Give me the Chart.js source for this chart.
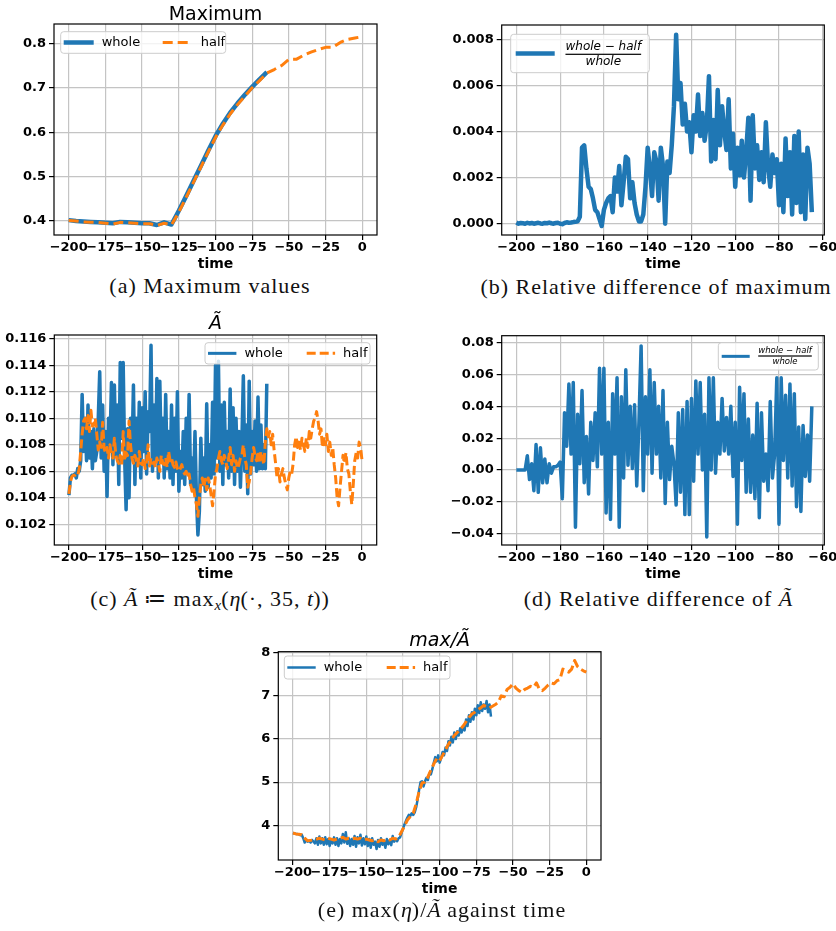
<!DOCTYPE html>
<html>
<head>
<meta charset="utf-8">
<script src="https://cdn.jsdelivr.net/npm/chart.js@4.4.1/dist/chart.umd.min.js"></script>
<style>
body{margin:0;background:#fff;width:836px;height:931px;position:relative;overflow:hidden}
canvas{position:absolute}
.cap{position:absolute;font-family:"Liberation Serif",serif;font-size:22px;line-height:22px;letter-spacing:1px;white-space:nowrap;transform:translateX(-50%);color:#111}
.cap i{letter-spacing:0}
.sub{font-style:italic;font-size:15px;position:relative;top:4px;letter-spacing:0}
</style>
</head>
<body>
<canvas id="ca" width="420" height="273" style="left:0;top:0"></canvas>
<canvas id="cb" width="416" height="273" style="left:420px;top:0"></canvas>
<canvas id="cc" width="420" height="283" style="left:0;top:300px"></canvas>
<canvas id="cd" width="416" height="283" style="left:420px;top:300px"></canvas>
<canvas id="ce" width="400" height="278" style="left:220px;top:620px"></canvas>

<div class="cap" style="left:210px;top:275px">(a) Maximum values</div>
<div class="cap" style="left:656px;top:276px">(b) Relative difference of maximum</div>
<div class="cap" style="left:210px;top:588px">(c) <i>Ã</i> ≔ max<span class="sub">x</span>(<i>η</i>(·, 35, <i>t</i>))</div>
<div class="cap" style="left:658px;top:588px">(d) Relative difference of <i>Ã</i></div>
<div class="cap" style="left:442px;top:899px">(e) max(<i>η</i>)/<i>Ã</i> against time</div>

<script>
// every series starts at t = -200
var T0 = -200

// (a) maximum of eta, one value every 5 time units
var maxStep = 5
var maxWhole = [0.402,0.400,0.399,0.398,0.397,0.396,0.395,0.398,0.397,0.396,
  0.395,0.395,0.391,0.397,0.392,0.423,0.456,0.490,0.524,0.558,
  0.591,0.619,0.644,0.665,0.684,0.702,0.719,0.735]
var maxHalf = [0.401,0.400,0.398,0.397,0.397,0.395,0.393,0.397,0.396,0.395,
  0.394,0.394,0.390,0.395,0.391,0.420,0.453,0.487,0.521,0.555,
  0.588,0.616,0.641,0.662,0.681,0.700,0.716,0.733,0.741,0.750,
  0.764,0.764,0.773,0.780,0.786,0.791,0.791,0.802,0.809,0.812,
  0.815]

// (b) (whole - half) / whole of the maximum, every time unit
var relStep = 1
var relMax = [0.00005,0.00000,0.00003,0.00002,0.00000,0.00004,0.00001,0.00003,0.00000,0.00002,
  0.00004,0.00001,0.00000,0.00003,0.00002,0.00005,0.00002,0.00000,0.00003,0.00004,
  0.00000,-0.00002,0.00003,0.00006,0.00004,0.00005,0.00007,0.00008,0.00010,0.00030,
  0.0033,0.0034,0.0024,0.0016,0.0015,0.0011,0.0006,0.0005,0.0002,-0.0001,
  0.0006,0.0009,0.0011,0.0012,0.0005,0.0020,0.0014,0.0025,0.0008,0.0018,
  0.0029,0.0028,0.0011,0.0018,0.0009,0.0004,0.0001,0.0001,0.0004,0.0016,
  0.0033,0.0024,0.0012,0.0031,0.0027,0.0010,0.0033,0.0025,0.0000,0.0027,
  0.0022,0.0034,0.0051,0.0082,0.0054,0.0061,0.0043,0.0052,0.0040,0.0044,
  0.0031,0.0047,0.0040,0.0056,0.0038,0.0048,0.0036,0.0043,0.0064,0.0027,
  0.0045,0.0028,0.0058,0.0034,0.0051,0.0040,0.0032,0.0054,0.0024,0.0039,
  0.0016,0.0033,0.0021,0.0036,0.0020,0.0031,0.0046,0.0010,0.0047,0.0024,
  0.0034,0.0019,0.0031,0.0018,0.0044,0.0025,0.0016,0.0030,0.0022,0.0028,
  0.0008,0.0026,0.0005,0.0037,0.0012,0.0031,0.0004,0.0038,0.0009,0.0040,
  0.0005,0.0030,0.0002,0.0033,0.0026,0.0005]

// (c) A tilde = max_x eta(., 35, t), every time unit
var aStep = 1
var aWhole = [0.1042,0.1055,0.1057,0.1057,0.1058,0.1055,0.1062,0.1060,0.1068,0.1118,
  0.1075,0.1100,0.1068,0.1110,0.1070,0.1090,0.1062,0.1092,0.1068,0.1075,
  0.1100,0.1135,0.1070,0.1110,0.1060,0.1090,0.1041,0.1100,0.1080,0.1127,
  0.1065,0.1125,0.1072,0.1110,0.1050,0.1142,0.1085,0.1142,0.1070,0.1031,
  0.1092,0.1040,0.1100,0.1070,0.1125,0.1050,0.1100,0.1065,0.1112,0.1055,
  0.1108,0.1075,0.1120,0.1058,0.1105,0.1090,0.1155,0.1060,0.1110,0.1068,
  0.1130,0.1055,0.1128,0.1070,0.1100,0.1055,0.1118,0.1062,0.1090,0.1055,
  0.1110,0.1050,0.1100,0.1060,0.1120,0.1045,0.1075,0.1055,0.1090,0.1050,
  0.1100,0.1060,0.1118,0.1050,0.1070,0.1048,0.1090,0.1040,0.1012,0.1030,
  0.1085,0.1050,0.1070,0.1045,0.1111,0.1048,0.1080,0.1055,0.1112,0.1058,
  0.1140,0.1070,0.1143,0.1060,0.1110,0.1050,0.1112,0.1065,0.1090,0.1055,
  0.1122,0.1060,0.1108,0.1050,0.1100,0.1060,0.1090,0.1048,0.1082,0.1132,
  0.1060,0.1095,0.1043,0.1128,0.1058,0.1090,0.1065,0.1098,0.1060,0.1116,
  0.1062,0.1095,0.1062,0.1080,0.1062,0.1126]
var aHalf = [0.1043,0.1052,0.1056,0.1057,0.1057,0.1058,0.1057,0.1062,0.1075,0.1088,
  0.1098,0.1100,0.1092,0.1102,0.1090,0.1106,0.1094,0.1095,0.1100,0.1088,
  0.1076,0.1082,0.1078,0.1097,0.1077,0.1074,0.1078,0.1070,0.1080,0.1072,
  0.1070,0.1085,0.1072,0.1068,0.1066,0.1072,0.1065,0.1090,0.1068,0.1074,
  0.1072,0.1098,0.1080,0.1070,0.1066,0.1072,0.1068,0.1064,0.1075,0.1066,
  0.1065,0.1070,0.1062,0.1068,0.1080,0.1064,0.1070,0.1066,0.1067,0.1063,
  0.1070,0.1066,0.1060,0.1072,0.1066,0.1065,0.1070,0.1063,0.1075,0.1068,
  0.1070,0.1065,0.1063,0.1067,0.1062,0.1060,0.1062,0.1065,0.1060,0.1058,
  0.1060,0.1055,0.1058,0.1050,0.1045,0.1048,0.1040,0.1035,0.1026,0.1040,
  0.1050,0.1055,0.1048,0.1054,0.1046,0.1055,0.1050,0.1042,0.1034,0.1045,
  0.1058,0.1062,0.1070,0.1075,0.1068,0.1065,0.1072,0.1068,0.1062,0.1070,
  0.1078,0.1065,0.1072,0.1060,0.1068,0.1062,0.1065,0.1070,0.1072,0.1080,
  0.1070,0.1065,0.1048,0.1052,0.1060,0.1070,0.1078,0.1072,0.1068,0.1075,
  0.1066,0.1075,0.1070,0.1065,0.1082,0.1092,0.1086,0.1090,0.1080,0.1088,
  0.1076,0.1066,0.1055,0.1062,0.1052,0.1058,0.1062,0.1055,0.1050,0.1046,
  0.1055,0.1060,0.1058,0.1066,0.1080,0.1086,0.1078,0.1082,0.1076,0.1085,
  0.1080,0.1075,0.1085,0.1078,0.1090,0.1085,0.1092,0.1098,0.1100,0.1105,
  0.1098,0.1088,0.1092,0.1078,0.1086,0.1080,0.1088,0.1075,0.1082,0.1072,
  0.1078,0.1065,0.1055,0.1040,0.1034,0.1048,0.1060,0.1072,0.1066,0.1074,
  0.1062,0.1058,0.1045,0.1035,0.1050,0.1068,0.1074,0.1070,0.1082,0.1078,
  0.1068]

// (d) relative difference of A tilde, every time unit
var relA = [0.000,0.000,0.000,0.000,0.000,0.009,-0.006,0.004,-0.013,0.016,
  -0.014,0.014,-0.008,0.007,-0.008,0.004,-0.002,0.002,0.002,0.003,
  0.005,-0.018,0.036,0.015,0.054,0.010,0.055,-0.036,0.035,0.004,
  0.050,-0.008,0.021,-0.015,0.030,0.006,0.036,0.002,0.064,0.010,
  0.064,-0.027,0.030,-0.031,0.048,0.010,0.058,-0.036,0.046,-0.005,
  0.063,0.003,0.040,0.001,0.041,-0.010,0.030,0.078,-0.013,0.046,
  0.010,0.063,-0.002,0.055,0.010,0.040,-0.005,0.050,-0.021,0.030,
  -0.006,0.015,0.004,-0.022,0.036,-0.014,0.038,-0.028,0.043,-0.028,
  0.045,-0.007,0.056,0.010,0.055,0.000,0.035,-0.042,0.058,0.000,
  0.058,-0.002,0.030,0.010,0.045,0.012,0.033,0.010,0.040,-0.004,
  0.030,-0.034,0.052,0.006,0.048,-0.014,0.032,-0.014,0.022,-0.018,
  0.042,-0.030,0.036,-0.007,0.010,-0.013,0.043,-0.005,0.010,0.058,
  -0.034,0.058,0.006,0.047,-0.005,0.054,-0.010,0.048,-0.023,0.027,
  -0.026,0.028,-0.004,0.022,-0.007,0.040]

// (e) max / A tilde; whole every time unit, half every 2
var ratioWholeStep = 1
var ratioHalfStep = 2
var ratioWhole = [3.82,3.81,3.80,3.80,3.79,3.77,3.78,3.70,3.60,3.66,
  3.62,3.64,3.60,3.66,3.62,3.58,3.70,3.55,3.74,3.58,
  3.70,3.55,3.72,3.56,3.68,3.52,3.66,3.58,3.72,3.55,
  3.70,3.52,3.68,3.58,3.80,3.60,3.84,3.57,3.70,3.52,
  3.68,3.55,3.75,3.50,3.72,3.58,3.78,3.53,3.70,3.56,
  3.74,3.52,3.68,3.48,3.70,3.55,3.62,3.45,3.66,3.50,
  3.70,3.55,3.64,3.48,3.68,3.56,3.66,3.54,3.75,3.62,
  3.68,3.63,3.70,3.72,3.82,3.92,4.02,4.10,4.18,4.24,
  4.22,4.28,4.24,4.30,4.42,4.60,4.82,5.00,5.02,4.90,
  5.02,5.10,5.05,5.20,5.18,5.30,5.45,5.58,5.48,5.62,
  5.45,5.55,5.70,5.62,5.80,5.72,5.95,5.85,6.05,5.92,
  6.15,6.00,6.18,6.08,6.25,6.15,6.30,6.20,6.45,6.30,
  6.55,6.40,6.62,6.45,6.70,6.55,6.78,6.60,6.85,6.65,
  6.80,6.70,6.88,6.62,6.80,6.52]
var ratioHalf = [3.82,3.80,3.79,3.78,3.70,3.64,3.65,3.66,3.68,3.70,
  3.68,3.66,3.70,3.68,3.66,3.68,3.70,3.72,3.68,3.70,
  3.68,3.70,3.68,3.70,3.66,3.68,3.66,3.64,3.66,3.62,
  3.66,3.64,3.68,3.66,3.70,3.68,3.72,3.85,3.98,4.12,
  4.20,4.28,4.50,4.78,4.98,5.00,5.12,5.28,5.42,5.55,
  5.50,5.62,5.75,5.88,5.98,6.08,6.15,6.22,6.30,6.40,
  6.50,6.58,6.62,6.68,6.72,6.78,6.75,6.72,6.76,6.80,
  6.85,7.00,6.98,7.15,7.20,7.28,7.18,7.12,7.08,7.15,
  7.18,7.22,7.20,7.30,7.15,7.12,7.18,7.25,7.30,7.28,
  7.35,7.38,7.62,7.58,7.55,7.62,7.82,7.68,7.62,7.58,
  7.55]

// tick values
var timeTicksLong = [-200,-175,-150,-125,-100,-75,-50,-25,0]
var timeTicksShort = [-200,-180,-160,-140,-120,-100,-80,-60]
var maxTicks = [0.4,0.5,0.6,0.7,0.8]
var relMaxTicks = [0,0.002,0.004,0.006,0.008]
var aTicks = [0.102,0.104,0.106,0.108,0.110,0.112,0.114,0.116]
var relATicks = [-0.04,-0.02,0,0.02,0.04,0.06,0.08]
var ratioTicks = [4,5,6,7,8]


var blue = '#1f77b4'
var orange = '#ff7f0e'
var gridColor = '#c4c4c4'
var sans = '"DejaVu Sans"'

function pts(step, ys){
  return ys.map(function(y,i){ return {x: T0 + i*step, y: y} })
}

function line(step, ys, color, width, dash, order){
  return {data: pts(step, ys), borderColor: color, borderWidth: width, borderDash: dash || [],
    order: order, fill: false, pointRadius: 0, tension: 0, borderJoinStyle: 'round', parsing: false}
}

function axis(min, max, ticks, digits, size, title){
  return {
    type: 'linear', min: min, max: max,
    afterBuildTicks: function(s){ s.ticks = ticks.map(function(v){ return {value: v} }) },
    afterFit: function(s){
      if (s.isHorizontal()) { s.height = size; s.paddingLeft = 0; s.paddingRight = 0 }
      else s.width = size
    },
    grid: {color: gridColor, lineWidth: 1.2, tickColor: '#000', tickWidth: 1.2, tickLength: 5},
    border: {display: false},
    ticks: {color: '#000', padding: title ? 0 : 3, autoSkip: false, maxRotation: 0,
      font: {family: sans, weight: 'bold', size: 13},
      callback: function(v){ return v.toFixed(digits).replace('-', '\u2212') }},
    title: {display: !!title, text: title, color: '#000', padding: 0,
      font: {family: sans, weight: 'bold', size: 14}}
  }
}

function drawLegend(ctx, area, lg){
  var x = lg.right ? area.right - lg.dx - lg.w : area.left + lg.dx
  var y = area.top + lg.dy
  var mid = y + lg.h/2
  ctx.beginPath()
  ctx.roundRect(x, y, lg.w, lg.h, 3)
  ctx.fillStyle = 'rgba(255,255,255,0.8)'
  ctx.fill()
  ctx.strokeStyle = '#cccccc'
  ctx.lineWidth = 1
  ctx.stroke()
  lg.items.forEach(function(it){
    ctx.beginPath()
    ctx.strokeStyle = it.color
    ctx.lineWidth = it.lw
    ctx.setLineDash(it.dash || [])
    ctx.moveTo(x + it.sx, mid)
    ctx.lineTo(x + it.sx + lg.len, mid)
    ctx.stroke()
    ctx.setLineDash([])
    ctx.fillStyle = '#000'
    if (it.frac) {
      var f = it.frac
      ctx.font = 'italic ' + f.size + 'px ' + sans
      ctx.textAlign = 'center'
      ctx.textBaseline = 'middle'
      ctx.fillText('whole \u2212 half', x + f.cx, y + f.ny)
      var w = ctx.measureText('whole \u2212 half').width
      ctx.fillRect(x + f.cx - w/2, y + f.by - 0.6, w, 1.2)
      ctx.fillText('whole', x + f.cx, y + f.dy)
    } else {
      ctx.font = '13px ' + sans
      ctx.textAlign = 'left'
      ctx.textBaseline = 'middle'
      ctx.fillText(it.text, x + it.sx + lg.len + lg.gap, mid)
    }
  })
}

function panel(id, p){
  var decor = {
    id: 'decor',
    afterDraw: function(chart){
      var ctx = chart.ctx, a = chart.chartArea
      ctx.save()
      ctx.strokeStyle = '#000'
      ctx.lineWidth = 1.2
      ctx.strokeRect(a.left, a.top, a.right - a.left, a.bottom - a.top)
      if (p.title) {
        ctx.fillStyle = '#000'
        ctx.font = p.title.font
        ctx.textAlign = 'center'
        ctx.textBaseline = 'alphabetic'
        ctx.fillText(p.title.text, (a.left + a.right)/2, a.top - p.title.lift)
      }
      drawLegend(ctx, a, p.legend)
      ctx.restore()
    }
  }
  return new Chart(document.getElementById(id), {
    type: 'line',
    data: {datasets: p.datasets},
    options: {
      responsive: false, animation: false, events: [],
      layout: {padding: {left: 0, top: p.top, right: p.right, bottom: 0}},
      plugins: {legend: {display: false}, tooltip: {enabled: false}, title: {display: false}},
      scales: {x: p.x, y: p.y}
    },
    plugins: [decor]
  })
}

var wholeHalfItems = function(wlw, hlw, dash, s2){
  return [{sx: 3, color: blue, lw: wlw, text: 'whole'},
          {sx: s2, color: orange, lw: hlw, dash: dash, text: 'half'}]
}

// (a)
panel('ca', {
  top: 24, right: 43,
  x: axis(-210, 10, timeTicksLong, 0, 38, 'time'),
  y: axis(0.3685, 0.8435, maxTicks, 1, 54),
  datasets: [line(maxStep, maxHalf, orange, 3, [10,5], 0), line(maxStep, maxWhole, blue, 4.5, null, 1)],
  title: {text: 'Maximum', font: '19px ' + sans, lift: 4},
  legend: {dx: 6.7, dy: 7.7, w: 165, h: 21.6, len: 30, gap: 8, items: wholeHalfItems(4.5, 3, [10,5], 102)}
})

// (b)
panel('cb', {
  top: 25, right: 11.7,
  x: axis(-206.7, -59.3, timeTicksShort, 0, 38, 'time'),
  y: axis(-0.00049, 0.00862, relMaxTicks, 3, 81.7),
  datasets: [line(relStep, relMax, blue, 4.5, null, 0)],
  legend: {dx: 9, dy: 9.3, w: 138.6, h: 38.4, len: 39, gap: 0,
    items: [{sx: 5, color: blue, lw: 4.5, frac: {cx: 92.6, ny: 12.4, by: 20, dy: 27.4, size: 12}}]}
})

// (c)
panel('cc', {
  top: 35, right: 43.3,
  x: axis(-210, 10, timeTicksLong, 0, 38, 'time'),
  y: axis(0.10044, 0.11628, aTicks, 3, 54.3),
  datasets: [line(aStep, aHalf, orange, 3, [9,4], 0), line(aStep, aWhole, blue, 3.5, null, 1)],
  title: {text: 'Ã', font: 'italic 19px ' + sans, lift: 6},
  legend: {right: true, dx: 6.7, dy: 7.7, w: 165, h: 21.3, len: 28.4, gap: 8, items: wholeHalfItems(3, 3, [9,4], 101.7)}
})

// (d)
panel('cd', {
  top: 35.7, right: 11.7,
  x: axis(-206.7, -59.3, timeTicksShort, 0, 38, 'time'),
  y: axis(-0.0471, 0.0844, relATicks, 2, 81.7),
  datasets: [line(relStep, relA, blue, 3.5, null, 0)],
  legend: {right: true, dx: 6, dy: 7, w: 100, h: 27.3, len: 28, gap: 0,
    items: [{sx: 3.4, color: blue, lw: 3, frac: {cx: 66.7, ny: 8, by: 13.3, dy: 19, size: 8.5}}]}
})

// (e)
panel('ce', {
  top: 31.7, right: 19,
  x: axis(-210, 10, timeTicksLong, 0, 38, 'time'),
  y: axis(3.195, 8.023, ratioTicks, 0, 58.3),
  datasets: [line(ratioHalfStep, ratioHalf, orange, 3, [9,4], 0), line(ratioWholeStep, ratioWhole, blue, 2.5, null, 1)],
  title: {text: 'max/Ã', font: 'italic 19px ' + sans, lift: 6},
  legend: {dx: 6, dy: 4.3, w: 165.7, h: 23, len: 28.4, gap: 8, items: wholeHalfItems(2.5, 3, [9,4], 102.4)}
})
</script>
</body>
</html>
